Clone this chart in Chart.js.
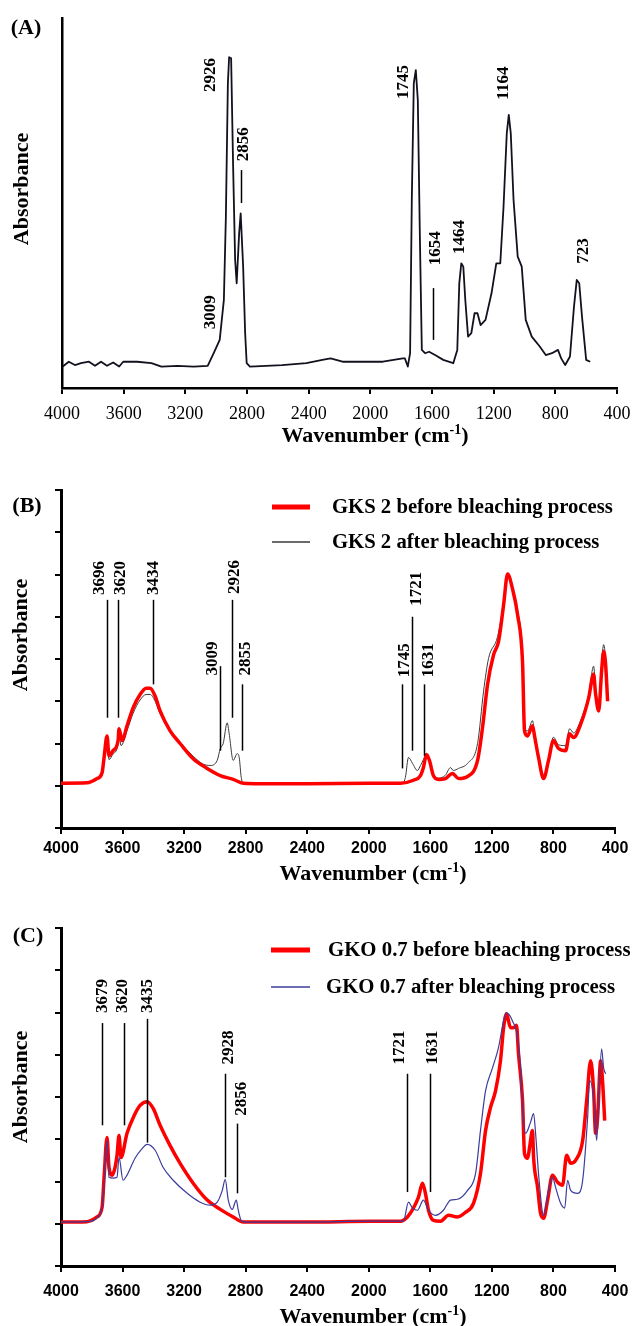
<!DOCTYPE html>
<html>
<head>
<meta charset="utf-8">
<script src="https://cdn.jsdelivr.net/npm/chart.js@4.4.1/dist/chart.umd.min.js"></script>
<style>
  html, body { margin: 0; padding: 0; background: #fff; }
  #wrap { position: relative; width: 633px; height: 1326px; }
  canvas { position: absolute; left: 0; }
</style>
</head>
<body>
<div id="wrap">
  <canvas id="panelA" width="633" height="450" style="top:0"></canvas>
  <canvas id="panelB" width="633" height="440" style="top:450px"></canvas>
  <canvas id="panelC" width="633" height="436" style="top:890px"></canvas>
</div>
<script>
// ---- data (wavenumber in cm-1, absorbance in arbitrary units) ----
const xTickValues = [4000, 3600, 3200, 2800, 2400, 2000, 1600, 1200, 800, 400];

// (A) oil spectrum
const oilWn  = [3995,3956,3916,3877,3825,3786,3747,3708,3668,3629,3603,3512,3420,3355,3251,3146,3055,3016,2977,2950,2937,2924,2916,2903,2890,2877,2867,2851,2841,2825,2812,2802,2781,2572,2415,2311,2258,2180,2050,1919,1789,1776,1757,1742,1731,1718,1705,1692,1679,1666,1645,1619,1580,1527,1462,1436,1423,1410,1397,1384,1366,1345,1324,1305,1285,1253,1214,1183,1157,1136,1115,1102,1089,1071,1044,1018,992,953,901,862,822,783,762,736,705,679,661,645,627,600,574];
const oilAbs = [0.058,0.071,0.062,0.067,0.071,0.060,0.071,0.060,0.069,0.058,0.071,0.071,0.067,0.058,0.060,0.058,0.060,0.094,0.130,0.238,0.463,0.824,0.894,0.891,0.598,0.346,0.283,0.418,0.472,0.328,0.148,0.067,0.058,0.062,0.067,0.076,0.080,0.071,0.071,0.071,0.080,0.080,0.058,0.094,0.508,0.824,0.859,0.778,0.418,0.103,0.094,0.098,0.089,0.076,0.067,0.103,0.283,0.337,0.328,0.238,0.139,0.148,0.202,0.202,0.170,0.184,0.256,0.337,0.337,0.490,0.688,0.738,0.688,0.508,0.355,0.328,0.184,0.139,0.112,0.089,0.094,0.103,0.080,0.062,0.085,0.220,0.292,0.283,0.193,0.076,0.071];

// (B) GKS 2
const gksBeforeWn  = [4000,3831,3766,3733,3720,3701,3688,3662,3629,3623,3603,3571,3531,3486,3447,3421,3388,3356,3291,3226,3141,3050,2965,2881,2816,2700,2400,2000,1794,1710,1664,1645,1625,1606,1580,1547,1502,1456,1417,1358,1293,1261,1228,1189,1157,1124,1098,1066,1033,1001,988,968,936,923,897,864,832,800,767,721,695,669,623,571,539,526,506,487,474,461,448];
const gksBeforeAbs = [1.06,1.07,1.17,1.31,1.67,2.18,1.71,1.83,2.07,2.35,2.07,2.42,2.85,3.16,3.31,3.31,3.12,2.77,2.30,2.00,1.64,1.41,1.24,1.15,1.06,1.05,1.05,1.06,1.06,1.13,1.24,1.43,1.74,1.60,1.24,1.15,1.17,1.29,1.17,1.22,1.60,2.37,3.40,4.10,4.41,5.28,6.01,5.66,5.05,3.94,2.30,2.18,2.42,2.18,1.67,1.17,1.60,2.07,1.88,1.83,2.23,2.14,2.46,3.08,3.64,3.17,2.77,3.71,4.18,3.87,3.00];
const gksAfterWn   = [4000,3831,3766,3733,3720,3701,3688,3662,3629,3623,3610,3571,3531,3486,3447,3421,3388,3356,3291,3226,3141,3080,3031,2985,2965,2946,2920,2907,2881,2855,2842,2829,2816,2000,1781,1762,1742,1716,1684,1664,1625,1606,1580,1547,1502,1469,1450,1417,1358,1293,1254,1222,1163,1124,1098,1066,1033,1001,988,968,936,923,897,864,832,800,767,721,695,669,623,571,539,526,506,487,474,461,448];
const gksAfterAbs  = [1.06,1.07,1.15,1.28,1.60,2.10,1.62,1.75,1.98,2.22,1.95,2.30,2.72,3.03,3.16,3.16,3.00,2.70,2.30,2.02,1.70,1.52,1.48,1.60,1.88,2.00,2.49,2.23,1.60,1.76,1.67,1.20,1.06,1.06,1.06,1.20,1.67,1.53,1.36,1.48,1.71,1.58,1.24,1.18,1.25,1.43,1.36,1.41,1.53,2.00,3.24,4.01,4.53,5.35,6.03,5.70,5.15,4.05,2.40,2.30,2.54,2.25,1.72,1.17,1.62,2.15,1.97,1.95,2.35,2.25,2.55,3.15,3.83,3.30,2.90,3.90,4.34,4.00,3.10];

// (C) GKO 0.7
const gkoBeforeWn  = [4000,3831,3766,3733,3720,3701,3688,3668,3649,3636,3623,3610,3571,3531,3486,3440,3401,3356,3291,3226,3141,3050,2965,2881,2816,2400,1990,1794,1749,1710,1677,1651,1632,1612,1580,1534,1482,1424,1372,1319,1274,1241,1209,1176,1144,1124,1105,1079,1059,1040,1027,1001,988,968,955,936,929,903,884,864,838,806,773,741,714,688,656,610,584,558,539,526,513,493,480,467];
const gkoBeforeAbs = [1.04,1.05,1.16,1.39,2.10,3.04,2.33,2.15,2.33,2.62,3.09,2.57,3.14,3.51,3.80,3.89,3.73,3.33,2.85,2.43,1.96,1.56,1.34,1.16,1.04,1.04,1.06,1.06,1.16,1.37,1.63,1.96,1.72,1.32,1.08,1.06,1.20,1.16,1.27,1.49,2.19,3.21,3.75,4.15,4.86,5.64,5.97,5.64,5.64,5.70,5.02,3.92,2.66,2.55,2.81,3.21,2.57,1.86,1.25,1.13,1.56,2.15,1.98,1.91,2.62,2.43,2.50,2.97,3.92,4.86,4.15,3.14,3.51,4.86,4.32,3.44];
const gkoAfterWn   = [4000,3831,3766,3727,3701,3688,3662,3636,3623,3597,3571,3519,3473,3440,3388,3336,3271,3180,3096,3031,2985,2952,2933,2913,2887,2861,2848,2829,2803,2400,1990,1775,1742,1716,1684,1645,1612,1567,1515,1469,1424,1358,1306,1274,1241,1196,1157,1124,1105,1066,1033,1014,995,981,949,929,916,897,871,864,832,806,786,754,727,708,688,643,610,578,565,539,519,506,487,474,461];
const gkoAfterAbs  = [1.04,1.05,1.14,1.56,2.97,2.10,2.08,2.10,2.57,2.03,2.15,2.55,2.78,2.88,2.74,2.33,2.03,1.72,1.51,1.44,1.51,1.79,2.05,1.56,1.34,1.56,1.32,1.08,1.04,1.04,1.06,1.06,1.51,1.37,1.32,1.56,1.32,1.20,1.32,1.56,1.58,1.79,2.19,3.21,4.15,4.69,5.17,5.80,5.99,5.80,5.40,4.69,3.44,3.14,3.40,3.61,3.14,2.19,1.25,1.20,1.79,2.10,1.86,1.49,1.37,2.03,1.79,1.72,2.03,3.51,4.39,3.99,2.97,3.92,5.14,4.69,4.55];

// peak labels: text centre (wavenumber, absorbance), optional marker line [wavenumber, from, to]
const peaksA = [
  {label:'2926', w:3039, v:0.846},
  {label:'2856', w:2819, v:0.659, line:[2839, 0.589, 0.500]},
  {label:'3009', w:3039, v:0.205},
  {label:'1745', w:1787, v:0.827},
  {label:'1654', w:1574, v:0.378, line:[1594, 0.270, 0.130]},
  {label:'1464', w:1419, v:0.408},
  {label:'1164', w:1135, v:0.824},
  {label:'723',  w:619,  v:0.370}
];
const peaksB = [
  {label:'3696', w:3746, v:5.92, line:[3701, 5.40, 2.61]},
  {label:'3620', w:3610, v:5.92, line:[3629, 5.40, 2.61]},
  {label:'3434', w:3401, v:5.92, line:[3401, 5.40, 3.40]},
  {label:'3009', w:3018, v:4.01, line:[2966, 3.83, 1.83]},
  {label:'2926', w:2874, v:5.94, line:[2887, 5.40, 2.61]},
  {label:'2855', w:2800, v:4.01, line:[2821, 3.40, 1.83]},
  {label:'1745', w:1768, v:3.97, line:[1781, 3.40, 1.41]},
  {label:'1721', w:1690, v:5.66, line:[1716, 5.00, 1.83]},
  {label:'1631', w:1612, v:3.97, line:[1638, 3.40, 1.71]}
];
const peaksC = [
  {label:'3679', w:3727, v:6.39, line:[3733, 5.75, 3.33]},
  {label:'3620', w:3597, v:6.39, line:[3590, 5.75, 3.33]},
  {label:'3435', w:3434, v:6.39, line:[3440, 5.85, 2.92]},
  {label:'2928', w:2913, v:5.17, line:[2933, 4.55, 2.10]},
  {label:'2856', w:2829, v:3.96, line:[2855, 3.37, 1.72]},
  {label:'1721', w:1801, v:5.17, line:[1749, 4.55, 1.75]},
  {label:'1631', w:1586, v:5.17, line:[1599, 4.55, 1.75]}
];

const SERIF = "'Liberation Serif', 'Times New Roman', serif";
const SANS = "'Liberation Sans', Arial, sans-serif";

function pts(wn, abs) { return wn.map((w, i) => ({x: w, y: abs[i]})); }

// texts, peak labels and the hand-placed legend
const decor = {
  id: 'decor',
  afterDraw(chart, args, o) {
    const {ctx, scales: {x, y}} = chart;
    ctx.save();
    ctx.fillStyle = '#000';
    ctx.strokeStyle = '#000';

    (o.peaks || []).forEach(p => {
      if (p.line) {
        const lx = Math.round(x.getPixelForValue(p.line[0])) + 0.5;
        ctx.lineWidth = 1.5;
        ctx.beginPath();
        ctx.moveTo(lx, y.getPixelForValue(p.line[1]));
        ctx.lineTo(lx, y.getPixelForValue(p.line[2]));
        ctx.stroke();
      }
      ctx.save();
      ctx.translate(x.getPixelForValue(p.w), y.getPixelForValue(p.v));
      ctx.rotate(-Math.PI / 2);
      ctx.font = 'bold 17px ' + SERIF;
      ctx.textAlign = 'center';
      ctx.textBaseline = 'middle';
      ctx.fillText(p.label, 0, 0);
      ctx.restore();
    });

    if (o.legend) {
      const lg = o.legend;
      lg.rows.forEach(r => {
        const ds = chart.data.datasets[r.ds];
        ctx.strokeStyle = ds.borderColor;
        ctx.lineWidth = r.lw;
        ctx.beginPath();
        ctx.moveTo(lg.x1, r.y);
        ctx.lineTo(lg.x2, r.y);
        ctx.stroke();
        ctx.fillStyle = '#000';
        ctx.font = 'bold ' + lg.size + 'px ' + SERIF;
        ctx.textAlign = 'left';
        ctx.textBaseline = 'middle';
        ctx.fillText(ds.label, r.tx, r.y + 1);
      });
    }

    // panel letter
    ctx.fillStyle = '#000';
    ctx.font = 'bold 22px ' + SERIF;
    ctx.textAlign = 'center';
    ctx.textBaseline = 'middle';
    ctx.fillText(o.letter.text, o.letter.x, o.letter.y);

    // y title
    ctx.save();
    ctx.translate(o.yTitle.x, o.yTitle.y);
    ctx.rotate(-Math.PI / 2);
    ctx.fillText('Absorbance', 0, 0);
    ctx.restore();

    // x title with superscript
    const big = 'bold 22px ' + SERIF, small = 'bold 14px ' + SERIF;
    const parts = [['Wavenumber (cm', big, 0], ['-1', small, -8], [')', big, 0]];
    let total = 0;
    parts.forEach(p => { ctx.font = p[1]; total += ctx.measureText(p[0]).width; });
    let tx = o.title.cx - total / 2;
    ctx.textAlign = 'left';
    ctx.textBaseline = 'alphabetic';
    parts.forEach(p => {
      ctx.font = p[1];
      ctx.fillText(p[0], tx, o.title.base + p[2]);
      tx += ctx.measureText(p[0]).width;
    });
    ctx.restore();
  }
};

function makePanel(id, cfg) {
  const H = document.getElementById(id).height;
  return new Chart(document.getElementById(id), {
    type: 'line',
    data: {datasets: cfg.datasets},
    options: {
      responsive: false,
      animation: false,
      events: [],
      layout: {padding: {top: cfg.area.top, right: 633 - cfg.area.right, left: 0, bottom: 0}},
      plugins: {legend: {display: false}, tooltip: {enabled: false}, decor: cfg.decor},
      elements: {point: {radius: 0}, line: {cubicInterpolationMode: cfg.smooth ? 'monotone' : 'default', tension: 0, borderJoinStyle: 'round'}},
      scales: {
        x: {
          type: 'linear', reverse: true, min: 400, max: 4000,
          afterBuildTicks: s => { s.ticks = xTickValues.map(v => ({value: v})); },
          afterFit: s => { s.height = H - cfg.area.bottom; s.paddingLeft = 0; s.paddingRight = 0; },
          ticks: {color: '#000', font: cfg.tickFont, padding: cfg.tickPad, maxRotation: 0, autoSkip: false, callback: v => String(v)},
          grid: {display: true, drawOnChartArea: false, drawTicks: true, tickLength: 6, color: '#000', lineWidth: 2},
          border: {display: true, color: '#000', width: cfg.axisW}
        },
        y: {
          min: 0, max: cfg.yMax,
          afterFit: s => { s.width = cfg.area.left; s.paddingTop = 0; s.paddingBottom = 0; },
          ticks: {display: false, stepSize: 1},
          grid: {display: cfg.yTicks, drawOnChartArea: false, drawTicks: true, tickLength: 6, color: '#000', lineWidth: 2},
          border: {display: true, color: '#000', width: cfg.axisW}
        }
      }
    },
    plugins: [decor]
  });
}

makePanel('panelA', {
  area: {left: 62, top: 18, right: 617, bottom: 388},
  yMax: 1, yTicks: false, axisW: 2.5, smooth: false,
  tickFont: {family: SERIF, size: 18}, tickPad: 9,
  datasets: [
    {label: 'Oil', data: pts(oilWn, oilAbs), borderColor: '#12121e', borderWidth: 1.8}
  ],
  decor: {
    peaks: peaksA,
    letter: {text: '(A)', x: 26, y: 28},
    yTitle: {x: 22, y: 189},
    title: {cx: 375, base: 442}
  }
});

makePanel('panelB', {
  area: {left: 61, top: 40, right: 615, bottom: 378},
  yMax: 8, yTicks: true, axisW: 3, smooth: true,
  tickFont: {family: SANS, size: 16, weight: 'bold'}, tickPad: 5,
  datasets: [
    {label: 'GKS 2 before bleaching process', data: pts(gksBeforeWn, gksBeforeAbs), borderColor: '#ff0000', borderWidth: 3.5},
    {label: 'GKS 2 after bleaching process', data: pts(gksAfterWn, gksAfterAbs), borderColor: '#3a3a3a', borderWidth: 1}
  ],
  decor: {
    peaks: peaksB,
    letter: {text: '(B)', x: 27, y: 56},
    yTitle: {x: 21, y: 185},
    title: {cx: 373, base: 430},
    legend: {x1: 272, x2: 310, size: 20.7, rows: [{ds: 0, y: 57, lw: 5, tx: 332}, {ds: 1, y: 92, lw: 1.5, tx: 332}]}
  }
});

makePanel('panelC', {
  area: {left: 61, top: 38, right: 615, bottom: 376},
  yMax: 8, yTicks: true, axisW: 3, smooth: true,
  tickFont: {family: SANS, size: 16, weight: 'bold'}, tickPad: 10,
  datasets: [
    {label: 'GKO 0.7 before bleaching process', data: pts(gkoBeforeWn, gkoBeforeAbs), borderColor: '#ff0000', borderWidth: 3.5, order: 1},
    {label: 'GKO 0.7 after bleaching process', data: pts(gkoAfterWn, gkoAfterAbs), borderColor: '#3c3c9c', borderWidth: 1.2, order: 0}
  ],
  decor: {
    peaks: peaksC,
    letter: {text: '(C)', x: 28, y: 46},
    yTitle: {x: 21, y: 197},
    title: {cx: 373, base: 433},
    legend: {x1: 271, x2: 310, size: 20.8, rows: [{ds: 0, y: 60, lw: 5, tx: 328}, {ds: 1, y: 97, lw: 1.5, tx: 326}]}
  }
});
</script>
</body>
</html>
